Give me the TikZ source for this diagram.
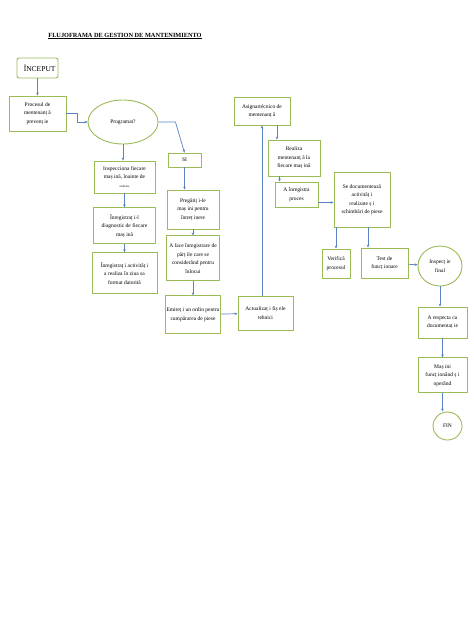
\documentclass[tikz,border=0pt]{standalone}
\usepackage{fontspec}
\setmainfont{Liberation Serif}
\usepackage{xcolor}
\usetikzlibrary{positioning, arrows.meta, shapes.geometric}
\definecolor{boxgreen}{HTML}{9BBB59}
\definecolor{linkblue}{HTML}{5B84C4}

\begin{document}
\begin{tikzpicture}[x=1pt, y=-1pt, >={Stealth[length=3pt,width=2.6pt]},
                    box/.style={draw=boxgreen, line width=0.9pt, align=center, inner sep=1pt,
                                font=\fontsize{5.5}{8.5}\selectfont},
                    oval/.style={box, ellipse},
                    link/.style={->, linkblue, line width=0.7pt}]
                    \useasboundingbox[fill=white] (0,0) rectangle (474,632);

                    \node[font=\bfseries\fontsize{6.3}{7}\selectfont] (title) at (125,36)
                         {\underline{FLUJOFRAMA DE GESTION DE MANTENIMIENTO}};

                    \node[box, rounded corners=2pt, minimum width=41pt, minimum height=20pt,
                          text width=36pt, align=right, font=\fontsize{7.5}{8}\selectfont] (inc) at (37.5,68) {ÎNCEPUT};
                    \node[box, minimum width=57pt, minimum height=35pt] (proc) at (37.5,113.5)
                         {Procesul de\\ mentenanț ă\\ prevenț ie};
                    \node[oval, minimum width=70pt, minimum height=44pt] (prog) at (123,122) {Programat?};
                    \node[box, minimum width=33pt, minimum height=14pt] (si) at (184.5,160) {SI};

                    \node[box, minimum width=61pt, minimum height=32pt] (insp) at (124.5,177)
                         {Inspecciona fiecare\\ maș ină, înainte de\\ {\fontsize{3}{4}\selectfont utilizare}};
                    \node[box, minimum width=62pt, minimum height=36pt] (reg1) [below=14pt of insp]
                         {Înregistraț i-l\\ diagnostic de fiecare\\ maș ină};
                    \node[box, minimum width=65pt, minimum height=41pt] (reg2) [below=8pt of reg1]
                         {Înregistraț i activităț i\\ a realiza în ziua sa\\ format datorită};

                    \node[box, minimum width=52pt, minimum height=39pt] (preg) at (193,209.5)
                         {Pregătiț i-le\\ maș ini pentru\\ întreț inere};
                    \node[box, minimum width=53pt, minimum height=45pt] (face) [below=6pt of preg]
                         {A face înregistrare de\\ părț ile care se\\ considerând pentru\\ înlocui};
                    \node[box, minimum width=52pt, minimum height=38pt] (emit) [below=14pt of face]
                         {Emiteț i un ordin pentru\\ cumpărarea de piese};
                    \node[box, minimum width=55pt, minimum height=34pt] (act) at (265.5,313)
                         {Actualizaț i fiș ele\\ tehnici};

                    \node[box, minimum width=56pt, minimum height=28pt] (asig) at (262,111)
                         {Asignartécnico de\\ mentenanț ă};
                    \node[box, minimum width=52pt, minimum height=36pt] (real) at (294,158)
                         {Realiza\\ mentenanț ă la\\ fiecare maș ină};
                    \node[box, minimum width=43pt, minimum height=25pt] (inreg) at (296.5,194.5)
                         {A înregistra\\ proces};
                    \node[box, minimum width=56pt, minimum height=55pt] (doc) at (362,199.5)
                         {Se documentează\\ activităț i\\ realizate ș i\\ schimbări de piese};
                    \node[box, minimum width=28pt, minimum height=29pt] (ver) at (336,263.5)
                         {Verifică\\ procesul};
                    \node[box, minimum width=47pt, minimum height=30pt] (test) at (384.5,263)
                         {Test de\\ funcț ionare};

                    \node[oval, minimum width=44pt, minimum height=40pt] (insf) at (440,266)
                         {Inspecț ie\\ final};
                    \node[box, minimum width=49pt, minimum height=31pt] (resp) at (442.5,322.5)
                         {A respecta cu\\ documentaț ie};
                    \node[box, minimum width=49pt, minimum height=35pt] (mas) [below=19pt of resp]
                         {Maș ini\\ funcț ionând ș i\\ operând};
                    \node[oval, minimum width=29pt, minimum height=28pt] (fin) at (447.5,426) {FIN};

                    \path[link]
                    (inc) edge (proc)
                    (insp) edge (reg1)
                    (reg1) edge (reg2)
                    (preg) edge (face)
                    (face) edge (emit)
                    (emit) edge (act)
                    (test) edge (insf)
                    (resp) edge (mas);

                    \draw[link] (proc.east) -- ++(11,0) |- (prog.west);
                    \draw[link] (prog.east) -- ++(17,0) -- (si.north);
                    \draw[link] (prog.south) -- (prog.south |- insp.north);
                    \draw[link] (si.south) -- (si.south |- preg.north);
                    \draw[link] (asig.south |- act.north) -- (asig.south);
                    \draw[link] ([xshift=15pt]asig.south) -- ([xshift=15pt]asig.south |- real.north);
                    \draw[link] ([xshift=5pt]inreg.north west |- real.south) -- ([xshift=5pt]inreg.north west);
                    \draw[link] ([yshift=-8pt]inreg.east) -- ([yshift=-8pt]inreg.east -| doc.west);
                    \draw[link] (ver.north |- doc.south) -- (ver.north);
                    \draw[link] ([xshift=6pt]doc.south) -- ([xshift=6pt]doc.south |- test.north);
                    \draw[link] (insf.south) -- (insf.south |- resp.north);
                    \draw[link] (mas.south) -- (mas.south |- fin.north);
\end{tikzpicture}
\end{document}
